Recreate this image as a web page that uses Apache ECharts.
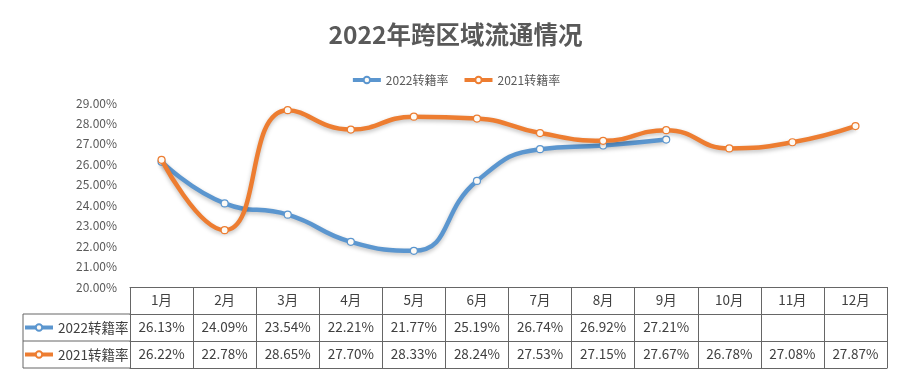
<!DOCTYPE html>
<html><head><meta charset="utf-8">
<script src="https://cdn.jsdelivr.net/npm/echarts@6/dist/echarts.min.js"></script>
<style>html,body{margin:0;padding:0;background:#fff}#c{width:911px;height:389px}</style>
</head><body><div id="c"></div>
<script>
const titleText = '2022年跨区域流通情况';
const months = ['1月','2月','3月','4月','5月','6月','7月','8月','9月','10月','11月','12月'];
const seriesNames = ['2022转籍率','2021转籍率'];
const rate2022 = [26.13,24.09,23.54,22.21,21.77,25.19,26.74,26.92,27.21,null,null,null];
const rate2021 = [26.22,22.78,28.65,27.70,28.33,28.24,27.53,27.15,27.67,26.78,27.08,27.87];
const yMin = 20, yMax = 29, yStep = 1;

const FONT = '"Noto Sans CJK SC","Noto Sans",sans-serif';
const TEXT = '#595959', CELLTEXT = '#404040', BORDER = '#666';
const colors = ['#5B96CF','#ED7D31'];
const W = 911, H = 389;
const gridLeft = 130, gridRight = 24, gridTop = 103, gridBottom = 102;
const rowH = 27, labelColLeft = 23;
const axisBottomY = H - gridBottom;
const fmt = v => v == null ? '' : v.toFixed(2) + '%';

function tableAxis(data, offset, showLabel, showTick) {
  return {
    type: 'category', data: data, position: 'bottom', offset: offset, gridIndex: 0,
    boundaryGap: true,
    axisLine: { show: true, lineStyle: { color: BORDER, width: 1 } },
    axisTick: { show: showTick, length: rowH, interval: 0, lineStyle: { color: BORDER, width: 1 } },
    axisLabel: { show: showLabel, interval: 0, margin: 6, color: CELLTEXT, fontSize: 13.5, fontFamily: FONT },
    splitLine: { show: false }
  };
}

function rowLegend(name, rowIndex) {
  return {
    data: [name], orient: 'horizontal', left: labelColLeft, top: axisBottomY + rowH * rowIndex + 5,
    padding: 0, itemWidth: 28, itemHeight: 8, selectedMode: false,
    lineStyle: { width: 4 },
    textStyle: { fontFamily: FONT, fontSize: 13.5, color: CELLTEXT, lineHeight: 17 }
  };
}

const chart = echarts.init(document.getElementById('c'), null, { renderer: 'canvas' });
const lineSeries = [rate2022, rate2021].map((d, i) => ({
  name: seriesNames[i], type: 'line', data: d, xAxisIndex: 0, yAxisIndex: 0,
  smooth: 0.5, symbol: 'circle', symbolSize: 7, showSymbol: true,
  lineStyle: { color: colors[i], width: 4.5, shadowColor: 'rgba(0,0,0,0.25)', shadowBlur: 4, shadowOffsetY: 2 },
  itemStyle: { color: '#fdfaf5', borderColor: colors[i], borderWidth: 1.2 },
  z: 3 + i,
  animation: false
}));

chart.setOption({
  animation: false,
  color: colors,
  title: {
    text: titleText, left: 'center', top: 17,
    textStyle: { fontFamily: FONT, fontSize: 24.5, fontWeight: 'bold', color: TEXT }
  },
  legend: [
    { data: seriesNames, top: 69, left: 'center', itemWidth: 28, itemHeight: 8, itemGap: 14,
      lineStyle: { width: 4 },
      textStyle: { fontFamily: FONT, fontSize: 12, color: TEXT } },
    rowLegend(seriesNames[0], 1),
    rowLegend(seriesNames[1], 2)
  ],
  grid: { left: gridLeft, right: gridRight, top: gridTop, bottom: gridBottom, containLabel: false },
  xAxis: [
    tableAxis(months, 0, true, true),
    tableAxis(rate2022.map(fmt), rowH, true, true),
    tableAxis(rate2021.map(fmt), rowH * 2, true, true),
    tableAxis(months.map(() => ''), rowH * 3, false, false)
  ],
  yAxis: {
    type: 'value', min: yMin, max: yMax, interval: yStep,
    axisLine: { show: false }, axisTick: { show: false }, splitLine: { show: false },
    axisLabel: { margin: 13, color: TEXT, fontSize: 12, fontFamily: FONT, formatter: v => v.toFixed(2) + '%' }
  },
  series: lineSeries,
  graphic: [
    { type: 'line', shape: { x1: labelColLeft, y1: axisBottomY + rowH, x2: gridLeft, y2: axisBottomY + rowH }, style: { stroke: BORDER, lineWidth: 1 } },
    { type: 'line', shape: { x1: labelColLeft, y1: axisBottomY + rowH * 2, x2: gridLeft, y2: axisBottomY + rowH * 2 }, style: { stroke: BORDER, lineWidth: 1 } },
    { type: 'line', shape: { x1: labelColLeft, y1: axisBottomY + rowH * 3, x2: gridLeft, y2: axisBottomY + rowH * 3 }, style: { stroke: BORDER, lineWidth: 1 } },
    { type: 'line', shape: { x1: labelColLeft, y1: axisBottomY + rowH, x2: labelColLeft, y2: axisBottomY + rowH * 3 }, style: { stroke: BORDER, lineWidth: 1 } }
  ]
});
</script></body></html>
